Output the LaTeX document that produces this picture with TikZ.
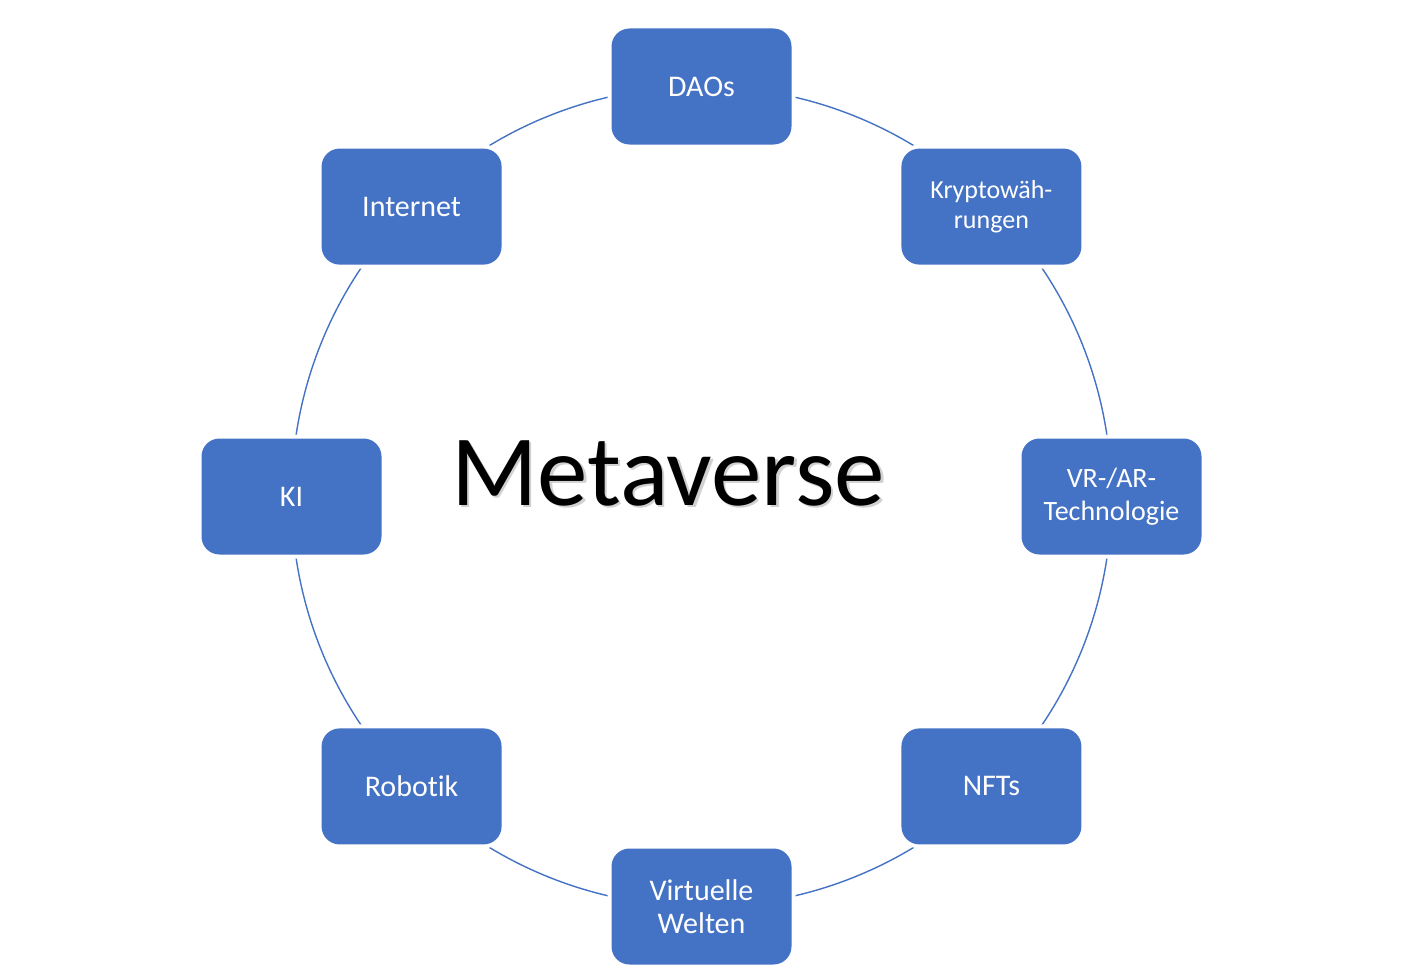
\documentclass[tikz,border=0pt]{standalone}
\usepackage{fontspec}
\setmainfont{Carlito}[Ligatures=CommonOff]
\usetikzlibrary{calc}
\definecolor{boxblue}{HTML}{4472C4}
\begin{document}
\begin{tikzpicture}[x=1pt,y=-1pt,
  item/.style={fill=boxblue, preaction={draw=white, line width=8pt}, rounded corners=18pt,
    minimum width=180pt, minimum height=116pt, text=white, align=center,
    font=\fontsize{30}{33}\selectfont, inner sep=0pt},
  smallitem/.style={item, font=\fontsize{26}{30}\selectfont},
  miditem/.style={item, font=\fontsize{28}{33}\selectfont},
  ring/.style={draw=boxblue, line width=1.4pt},
  title/.style={font=\fontsize{101}{110}\selectfont, anchor=base, inner sep=0pt}]
\useasboundingbox (0,0) rectangle (1406,966);
\coordinate (C) at (701.5,496.5);
\draw[ring] (C) circle[radius=410];
\node[item] (dao) at ($(C)+(-90:410)$) {DAOs};
\node[smallitem] (krypto) at ($(C)+(-45:410)$) {Kryptowäh-\\rungen};
\node[miditem] (vr) at ($(C)+(0:410)$) {VR-/AR-\\Technologie};
\node[item] (nft) at ($(C)+(45:410)$) {NFTs};
\node[item] (welt) at ($(C)+(90:410)$) {Virtuelle\\Welten};
\node[item] (robo) at ($(C)+(135:410)$) {Robotik};
\node[item] (ki) at ($(C)+(180:410)$) {KI};
\node[item] (inet) at ($(C)+(225:410)$) {Internet};
\node[title, text=black!40, opacity=0.45] (metashadow) at (670.5,507.5) {Metaverse};
\node[title, text=black] (meta) at (668,505) {Metaverse};
\end{tikzpicture}
\end{document}
